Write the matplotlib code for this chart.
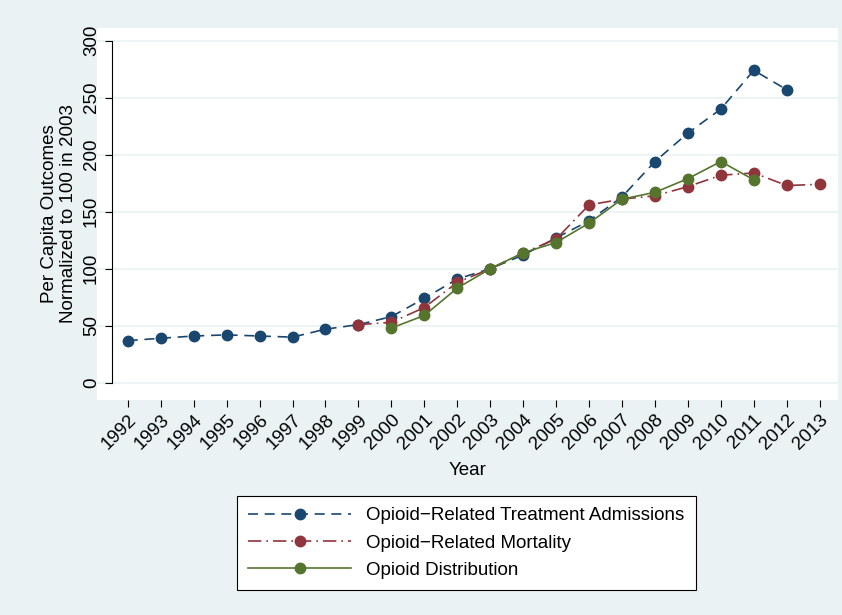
import matplotlib
matplotlib.use("Agg")
import matplotlib.pyplot as plt

years_t = list(range(1992, 2013))
treat = [37, 39, 41, 42, 41, 40, 47, 51, 58, 74, 91, 100, 112, 127, 142, 163, 194, 219, 240, 274, 257]
years_m = list(range(1999, 2014))
mort = [51, 53, 66, 88, 100, 114, 126, 156, 161, 164, 172, 182, 184, 173, 174]
years_d = list(range(2000, 2012))
dist = [48, 59, 83, 100, 114, 123, 140, 161, 167, 179, 194, 178]

plt.rcParams['font.family'] = ['Liberation Sans', 'DejaVu Sans']
fig = plt.figure(figsize=(8.42, 6.15), dpi=100, facecolor='#eaf2f3')
ax = fig.add_axes([0.115, 0.35, 0.88, 0.605])
ax.set_facecolor('white')
ax.set_xlim(1991.06, 2013.55)
ax.set_ylim(-14.9, 311.4)
for y in range(0, 301, 50):
    ax.axhline(y, color='#eaf2f3', lw=1.2, zorder=0)
ax.plot(years_t, treat, color='#1a476f', ls=(0, (6, 4)), lw=1.2, marker='o', ms=7.5,
        label='Opioid\u2212Related Treatment Admissions')
ax.plot(years_m, mort, color='#90353b', ls=(0, (8, 3, 1, 3)), lw=1.2, marker='o', ms=7.5,
        label='Opioid\u2212Related Mortality')
ax.plot(years_d, dist, color='#55752f', ls='-', lw=1.2, marker='o', ms=7.5,
        label='Opioid Distribution')
for s in ['top', 'right', 'bottom']:
    ax.spines[s].set_visible(False)
ax.spines['left'].set_position(('data', 1991.51))
ax.spines['left'].set_bounds(0, 300)
ax.set_yticks(range(0, 301, 50))
ax.set_yticklabels([str(v) for v in range(0, 301, 50)], rotation=90, va='center', fontsize=13.5)
ax.set_xticks(list(range(1992, 2014)))
ax.set_xticklabels([str(v) for v in range(1992, 2014)], rotation=45, ha='right',
                   rotation_mode='anchor', fontsize=13.5)
ax.tick_params(axis='x', length=5)
ax.tick_params(axis='y', length=5)
ax.set_xlabel('Year', fontsize=13.5, labelpad=6)
ax.set_ylabel('Per Capita Outcomes\nNormalized to 100 in 2003', fontsize=13.5)
leg = fig.legend(loc='center', bbox_to_anchor=(0.554, 0.117), fontsize=13.5, frameon=True,
                 fancybox=False, edgecolor='black', facecolor='white', framealpha=1,
                 handlelength=5.5, labelspacing=0.55, borderpad=0.6)
leg.get_frame().set_linewidth(0.8)
fig.savefig('out.png', dpi=100, facecolor=fig.get_facecolor())
